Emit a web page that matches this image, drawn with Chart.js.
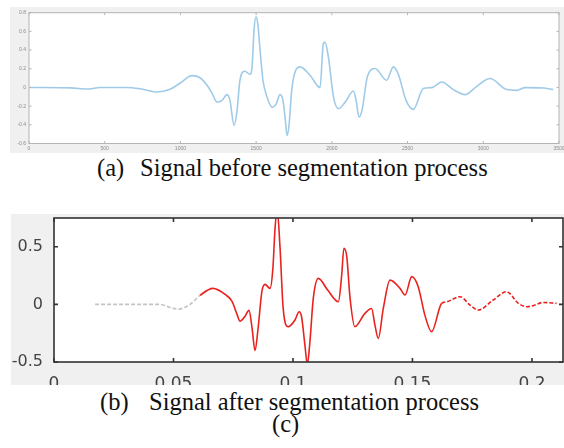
<!DOCTYPE html>
<html>
<head>
<meta charset="utf-8">
<script src="https://cdn.jsdelivr.net/npm/chart.js@4.4.0/dist/chart.umd.min.js"></script>
<style>
  body { margin: 0; background: #fff; width: 564px; height: 448px; position: relative; overflow: hidden; }
  .panel { position: absolute; background: #f0f0f0; overflow: hidden; }
  .panel canvas { display: block; }
  .cap { position: absolute; font-family: "Liberation Serif", "Times New Roman", serif; font-size: 24.5px; line-height: 1; color: #111; white-space: nowrap; }
</style>
</head>
<body>
<div class="panel" style="left:10px;top:7px;width:554px;height:146px;">
  <canvas id="chartA" width="554" height="146"></canvas>
</div>
<div class="cap" style="left:97px;top:156px;">(a)</div>
<div class="cap" style="left:140px;top:156px;">Signal before segmentation process</div>

<div class="panel" style="left:11px;top:214px;width:553px;height:171px;">
  <canvas id="chartB" width="553" height="185"></canvas>
</div>
<div class="cap" style="left:100px;top:390px;">(b)</div>
<div class="cap" style="left:149px;top:390px;">Signal after segmentation process</div>
<div class="cap" style="left:272px;top:412px;">(c)</div>

<script>
// (a) signal before segmentation, x in samples
const sampleA = [7, 277, 394, 469, 647, 733, 845, 931, 997, 1076, 1129, 1176, 1209, 1242, 1275, 1308, 1327,
  1354, 1374, 1393, 1426, 1459, 1473, 1486, 1499, 1512, 1526, 1545, 1572, 1605, 1631, 1658, 1677, 1691,
  1704, 1717, 1735, 1757, 1790, 1856, 1922, 1944, 1955, 1977, 2011, 2044, 2087, 2142, 2160, 2179, 2199,
  2234, 2285, 2362, 2406, 2439, 2490, 2538, 2604, 2659, 2725, 2802, 2879, 2957, 3044, 3155, 3221, 3276,
  3396, 3462];
const ampA = [0, -0.005, -0.017, 0, 0, -0.014, -0.049, -0.02, 0.045, 0.127, 0.104, 0.023, -0.063, -0.156,
  -0.138, -0.077, -0.138, -0.407, -0.245, 0.077, 0.174, 0.141, 0.217, 0.614, 0.757, 0.668, 0.399, 0.077,
  -0.103, -0.213, -0.181, -0.077, -0.138, -0.317, -0.514, -0.407, -0.031, 0.166, 0.22, 0.131, -0.002,
  0.471, 0.482, 0.327, -0.103, -0.227, -0.16, -0.038, -0.138, -0.317, -0.245, 0.112, 0.203, 0.077, 0.22,
  0.141, -0.138, -0.235, -0.012, -0.002, 0.059, -0.023, -0.077, 0.012, 0.095, -0.023, -0.031, -0.002,
  -0.006, -0.023];
const ticksAX = [0, 500, 1000, 1500, 2000, 2500, 3000, 3500];
const ticksAY = [-0.6, -0.4, -0.2, 0, 0.2, 0.4, 0.6, 0.8];

// (b) signal after segmentation, x in seconds
const timeB = [0.0172, 0.0255, 0.0372, 0.0444, 0.0485, 0.0519, 0.0569, 0.0611, 0.0665, 0.0716, 0.0745,
  0.0766, 0.0778, 0.0799, 0.0816, 0.0829, 0.0841, 0.0854, 0.087, 0.0883, 0.0904, 0.0916, 0.0925, 0.0934,
  0.0946, 0.0959, 0.098, 0.1008, 0.1026, 0.1036, 0.105, 0.106, 0.1071, 0.1085, 0.1106, 0.1146, 0.119,
  0.1204, 0.1213, 0.1225, 0.1239, 0.1259, 0.1301, 0.1329, 0.1343, 0.1357, 0.1378, 0.1406, 0.1448, 0.1469,
  0.1497, 0.1524, 0.1552, 0.158, 0.1622, 0.1643, 0.1699, 0.1741, 0.1775, 0.1838, 0.1894, 0.1943, 0.1978,
  0.2005, 0.2047, 0.2103];
const ampB = [0, 0, 0, 0, -0.026, -0.041, 0, 0.078, 0.139, 0.087, 0.026, -0.087, -0.145, -0.104, -0.052,
  -0.209, -0.4, -0.209, 0.113, 0.174, 0.139, 0.313, 0.661, 0.82, 0.487, -0.035, -0.194, -0.137, -0.064,
  -0.107, -0.354, -0.52, -0.322, 0.052, 0.226, 0.122, 0.023, 0.255, 0.487, 0.417, 0.052, -0.194, -0.078,
  -0.035, -0.18, -0.296, -0.035, 0.211, 0.139, 0.081, 0.241, 0.154, -0.093, -0.238, 0.009, 0.023, 0.067,
  -0.006, -0.049, 0.038, 0.11, 0.009, -0.02, -0.011, 0.017, 0.009];
const ticksBX = [0, 0.05, 0.1, 0.15, 0.2];
const ticksBY = [-0.5, 0, 0.5];

// white plot box with inward tick marks, matlab style
const frameTicks = {
  id: 'frameTicks',
  beforeDatasetsDraw(chart) {
    const { ctx, chartArea: a } = chart;
    ctx.save();
    ctx.fillStyle = '#fff';
    ctx.fillRect(a.left, a.top, a.right - a.left, a.bottom - a.top);
    ctx.restore();
  },
  afterDatasetsDraw(chart, args, opts) {
    const { ctx, chartArea: a, scales } = chart;
    ctx.save();
    ctx.strokeStyle = opts.color;
    ctx.lineWidth = opts.width;
    ctx.strokeRect(a.left, a.top, a.right - a.left, a.bottom - a.top);
    ctx.beginPath();
    scales.x.ticks.forEach(t => {
      const px = scales.x.getPixelForValue(t.value);
      ctx.moveTo(px, a.bottom); ctx.lineTo(px, a.bottom - opts.len);
      ctx.moveTo(px, a.top); ctx.lineTo(px, a.top + opts.len);
    });
    scales.y.ticks.forEach(t => {
      const py = scales.y.getPixelForValue(t.value);
      ctx.moveTo(a.left, py); ctx.lineTo(a.left + opts.len, py);
      ctx.moveTo(a.right, py); ctx.lineTo(a.right - opts.len, py);
    });
    ctx.stroke();
    ctx.restore();
  }
};

function fixedAxis(size, horizontal) {
  return s => {
    if (horizontal) s.height = size; else s.width = size;
    s.paddingLeft = s.paddingRight = s.paddingTop = s.paddingBottom = 0;
  };
}

new Chart(document.getElementById('chartA'), {
  type: 'line',
  data: {
    datasets: [{
      data: sampleA.map((s, i) => ({ x: s, y: ampA[i] })),
      borderColor: '#9fcbe8',
      borderWidth: 1.6,
      pointRadius: 0,
      cubicInterpolationMode: 'monotone'
    }]
  },
  options: {
    responsive: false,
    animation: false,
    layout: { padding: { top: 5.7, right: 5, left: 0, bottom: 0 } },
    plugins: {
      legend: { display: false },
      tooltip: { enabled: false },
      frameTicks: { color: '#b4b4b4', width: 1, len: 2.5 }
    },
    scales: {
      x: {
        type: 'linear', min: 0, max: 3500,
        afterBuildTicks: s => { s.ticks = ticksAX.map(v => ({ value: v })); },
        afterFit: fixedAxis(9.5, true),
        grid: { display: false, drawTicks: false },
        border: { display: false },
        ticks: { padding: 2, font: { size: 5 }, color: '#8a8a8a', maxRotation: 0, callback: v => String(v) }
      },
      y: {
        type: 'linear', min: -0.6, max: 0.8,
        afterBuildTicks: s => { s.ticks = ticksAY.map(v => ({ value: v })); },
        afterFit: fixedAxis(19, false),
        grid: { display: false, drawTicks: false },
        border: { display: false },
        ticks: { padding: 3, font: { size: 5 }, color: '#8a8a8a', callback: v => String(v) }
      }
    }
  },
  plugins: [frameTicks]
});

const red = '#e8221e';
const grey = '#c4c4c4';

new Chart(document.getElementById('chartB'), {
  type: 'line',
  data: {
    datasets: [{
      data: timeB.map((t, i) => ({ x: t, y: ampB[i] })),
      borderColor: red,
      borderWidth: 1.6,
      pointRadius: 0,
      cubicInterpolationMode: 'monotone',
      segment: {
        borderColor: c => (c.p0.parsed.x < 0.06 || c.p0.parsed.x > 0.205) ? grey : red,
        borderDash: c => (c.p0.parsed.x < 0.06 || c.p0.parsed.x > 0.162) ? [4, 2] : []
      }
    }]
  },
  options: {
    responsive: false,
    animation: false,
    layout: { padding: { top: 4, right: 1, left: 0, bottom: 0 } },
    plugins: {
      legend: { display: false },
      tooltip: { enabled: false },
      frameTicks: { color: '#333', width: 1.6, len: 4 }
    },
    scales: {
      x: {
        type: 'linear', min: 0, max: 0.213,
        afterBuildTicks: s => { s.ticks = ticksBX.map(v => ({ value: v })); },
        afterFit: fixedAxis(37, true),
        grid: { display: false, drawTicks: false },
        border: { display: false },
        ticks: { padding: 12, font: { family: 'DejaVu Sans', size: 17 }, color: '#444', maxRotation: 0, callback: v => String(v) }
      },
      y: {
        type: 'linear', min: -0.5, max: 0.75,
        afterBuildTicks: s => { s.ticks = ticksBY.map(v => ({ value: v })); },
        afterFit: fixedAxis(43, false),
        grid: { display: false, drawTicks: false },
        border: { display: false },
        ticks: { padding: 11, font: { family: 'DejaVu Sans', size: 16 }, color: '#444', callback: v => String(v) }
      }
    }
  },
  plugins: [frameTicks]
});
</script>
</body>
</html>
